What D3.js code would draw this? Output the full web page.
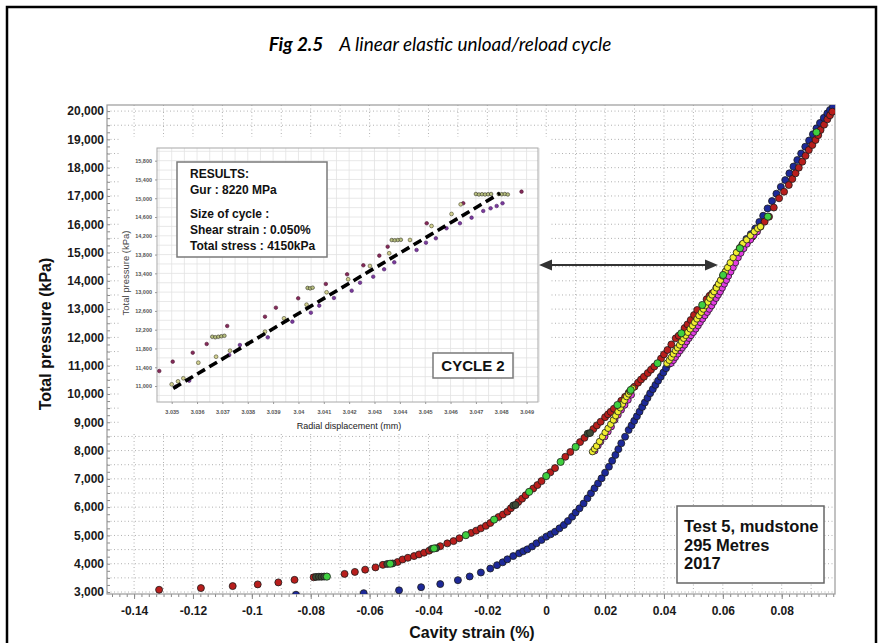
<!DOCTYPE html>
<html>
<head>
<meta charset="utf-8">
<script src="https://cdn.jsdelivr.net/npm/d3@7"></script>
<style>
  body { margin: 0; background: #fff; }
  svg { display: block; }
</style>
</head>
<body>
<svg id="chart" width="880" height="643"></svg>
<script>
// ---------- text ----------
const titleBold = "Fig 2.5";
const titleRest = "A linear elastic unload/reload cycle";
const xAxisTitle = "Cavity strain (%)";
const yAxisTitle = "Total pressure (kPa)";
const infoLines = ["Test 5, mudstone", "295 Metres", "2017"];
const resultLines = ["RESULTS:", "Gur : 8220 MPa", "Size of cycle :", "Shear strain : 0.050%", "Total stress : 4150kPa"];
const cycleLabel = "CYCLE 2";
const insetXTitle = "Radial displacement (mm)";
const insetYTitle = "Total pressure (kPa)";

// ---------- main axes ----------
const xTicks = [-0.14, -0.12, -0.1, -0.08, -0.06, -0.04, -0.02, 0, 0.02, 0.04, 0.06, 0.08];
const xTickLabels = ["-0.14", "-0.12", "-0.1", "-0.08", "-0.06", "-0.04", "-0.02", "0", "0.02", "0.04", "0.06", "0.08"];
const yTicks = [3000, 4000, 5000, 6000, 7000, 8000, 9000, 10000, 11000, 12000, 13000, 14000, 15000, 16000, 17000, 18000, 19000, 20000];
const yTickLabels = ["3,000", "4,000", "5,000", "6,000", "7,000", "8,000", "9,000", "10,000", "11,000", "12,000", "13,000", "14,000", "15,000", "16,000", "17,000", "18,000", "19,000", "20,000"];

// ---------- main series: [cavity strain %, total pressure kPa] ----------
const loadingRed = [
  [-0.1505,3010],[-0.1315,3080],[-0.1173,3140],[-0.1065,3210],[-0.0980,3270],[-0.0910,3340],[-0.0855,3430],[-0.0790,3520],
  [-0.0685,3640],[-0.0650,3710],[-0.0615,3790],[-0.0580,3870],[-0.0555,3960],[-0.0505,4060],[-0.0488,4150],[-0.0470,4210],
  [-0.0449,4270],[-0.0432,4330],[-0.0415,4390],[-0.0398,4460],[-0.0360,4620],[-0.0336,4720],[-0.0315,4800],[-0.0295,4900],
  [-0.0255,5090],[-0.0238,5170],[-0.0222,5250],[-0.0205,5340],[-0.0190,5440],[-0.0162,5650],[-0.0147,5740],[-0.0132,5840],
  [-0.0120,5960],[-0.0095,6180],[-0.0082,6300],[-0.0070,6420],[-0.0044,6660],[-0.0030,6780],[-0.0016,6920],[0.0014,7230],
  [0.0030,7380],[0.0065,7780],[0.0082,7950],[0.0115,8300],[0.0130,8450],[0.0160,8760],[0.0172,8890],[0.0185,9020],
  [0.0200,9180],[0.0210,9280],[0.0219,9370],[0.0230,9480],[0.0255,9760],[0.0268,9900],[0.0280,10040],[0.0300,10260],
  [0.0312,10400],[0.0322,10510],[0.0332,10610],[0.0345,10740],[0.0356,10860],[0.0367,10970],[0.0390,11250],[0.0400,11400],
  [0.0412,11555],[0.0425,11750],[0.0440,11968],[0.0450,12060],[0.0470,12330],[0.0480,12460],[0.0491,12615],[0.0502,12790],
  [0.0513,12970],[0.0545,13350],[0.0555,13470],[0.0564,13560],[0.0578,13760],[0.0593,13970],[0.0612,14350],[0.0625,14560],
  [0.0637,14760],[0.0648,14950],[0.0670,15300],[0.0685,15420],[0.0700,15560],[0.0714,15740],[0.0728,15914],[0.0742,16090],
  [0.0757,16268],[0.0773,16590],[0.0791,16917],[0.0808,17150],[0.0824,17387],[0.0836,17600],[0.0847,17800],[0.0858,18000],
  [0.0870,18210],[0.0881,18420],[0.0892,18624],[0.0904,18800],[0.0915,18978],[0.0924,19150],[0.0932,19331],[0.0944,19520],
  [0.0955,19710],[0.0964,19850],[0.0972,19979]
];
const reloadBlue = [
  [-0.0850,2905],[-0.0620,2960],[-0.0500,3060],[-0.0425,3170],[-0.0360,3280],[-0.0300,3420],[-0.0260,3550],[-0.0222,3690],
  [-0.0190,3830],[-0.0167,3950],[-0.0148,4050],[-0.0132,4156],[-0.0112,4270],[-0.0092,4368],[-0.0078,4440],[-0.0064,4509],
  [-0.0048,4610],[-0.0033,4722],[-0.0016,4840],[0.0000,4955],[0.0015,5040],[0.0030,5132],[0.0045,5250],[0.0060,5368],
  [0.0074,5510],[0.0088,5662],[0.0100,5810],[0.0113,5959],[0.0127,6130],[0.0140,6312],[0.0152,6490],[0.0164,6666],
  [0.0176,6840],[0.0188,7019],[0.0200,7220],[0.0213,7429],[0.0224,7640],[0.0235,7843],[0.0245,8050],[0.0255,8257],
  [0.0268,8490],[0.0280,8727],[0.0290,8890],[0.0299,9050],[0.0308,9210],[0.0317,9374],[0.0326,9540],[0.0335,9700],
  [0.0344,9860],[0.0353,10024],[0.0362,10170],[0.0371,10320],[0.0380,10470],[0.0389,10611],[0.0398,10760],[0.0407,10910],
  [0.0416,11060],[0.0425,11200],[0.0434,11330],[0.0443,11470],[0.0452,11600],[0.0461,11731],[0.0470,11850],[0.0479,11970],
  [0.0487,12090],[0.0495,12202],[0.0503,12320],[0.0511,12440],[0.0519,12560],[0.0527,12675],[0.0535,12790],[0.0543,12910],
  [0.0551,13030],[0.0559,13146],[0.0567,13280],[0.0575,13410],[0.0583,13545],[0.0591,13676],[0.0601,13890],[0.0611,14100],
  [0.0624,14420],[0.0638,14750],[0.0652,15030],[0.0666,15280],[0.0680,15480],[0.0695,15650],[0.0710,15850],[0.0724,16080],
  [0.0737,16300],[0.0752,16560],[0.0767,16820],[0.0782,17080],[0.0797,17320],[0.0812,17560],[0.0826,17800],[0.0840,18040],
  [0.0853,18270],[0.0866,18500],[0.0880,18740],[0.0893,18960],[0.0906,19180],[0.0918,19390],[0.0930,19580],[0.0943,19760],
  [0.0955,19920],[0.0964,20040],[0.0974,20150]
];
const cycleYellow = [
  [0.0157,7960],[0.0164,8060],[0.0171,8161],[0.0181,8320],[0.0191,8490],[0.0200,8640],[0.0210,8787],[0.0219,8930],
  [0.0228,9080],[0.0236,9230],[0.0244,9374],[0.0252,9510],[0.0259,9646],[0.0266,9775],[0.0273,9905],[0.0280,10000],
  [0.0285,10081],[0.0293,10200],
  [0.0410,11085],[0.0418,11190],[0.0425,11297],[0.0432,11415],[0.0439,11532],[0.0446,11630],[0.0453,11731],[0.0460,11850],
  [0.0467,11968],[0.0474,12070],[0.0481,12179],[0.0489,12300],[0.0497,12414],[0.0504,12530],[0.0512,12651],[0.0519,12770],
  [0.0527,12887],[0.0534,13000],[0.0541,13121],[0.0549,13250],[0.0556,13382],[0.0563,13500],[0.0570,13616],[0.0578,13750],
  [0.0585,13888],[0.0592,14020],[0.0600,14170],[0.0608,14320],[0.0616,14470],[0.0625,14640],[0.0635,14820],[0.0646,15000],
  [0.0657,15170],[0.0668,15320],[0.0681,15450],[0.0694,15600],[0.0707,15740],[0.0718,15850],[0.0728,15914]
];
const cycleMagenta = [
  [0.0165,7995],[0.0176,8172],[0.0185,8313],[0.0199,8490],[0.0210,8667],[0.0221,8843],[0.0233,9080],[0.0244,9257],
  [0.0255,9434],[0.0267,9610],[0.0278,9787],[0.0289,9964],
  [0.0424,11085],[0.0432,11190],[0.0439,11297],[0.0447,11415],[0.0455,11532],[0.0462,11630],[0.0470,11731],[0.0477,11850],
  [0.0485,11968],[0.0492,12070],[0.0500,12179],[0.0508,12300],[0.0516,12414],[0.0523,12530],[0.0531,12651],[0.0539,12770],
  [0.0547,12887],[0.0554,13000],[0.0562,13121],[0.0569,13250],[0.0577,13382],[0.0584,13500],[0.0591,13616],[0.0598,13750],
  [0.0605,13888],[0.0612,14020],[0.0619,14170],[0.0627,14320],[0.0635,14470],[0.0643,14640],[0.0652,14820],[0.0661,14980],
  [0.0671,15140],[0.0682,15300],[0.0694,15450],[0.0705,15600],[0.0717,15737]
];
const holdGreen = [
  [-0.0745,3545],[-0.0530,4000],[-0.0381,4540],[-0.0273,5010],[-0.0177,5560],[-0.0058,6540],[0.0000,7100],[0.0049,7600],
  [0.0100,8130],[0.0242,9610],[0.0287,10141],[0.0378,11085],[0.0459,12145],[0.0530,13146],[0.0601,14206],[0.0658,15150],
  [0.0753,16270],[0.0918,19250]
];
const holdDark = [
  [-0.0782,3535],[-0.0772,3540],[-0.0763,3540],[-0.0754,3545],[-0.0540,3990],[-0.0522,4010],[-0.0388,4530],[-0.0374,4550],
  [-0.0112,6060],[-0.0104,6080],[0.0141,8600],[0.0149,8620]
];

// ---------- inset: radial displacement (mm) vs total pressure (kPa) ----------
const insetXTicks = [3.035,3.036,3.037,3.038,3.039,3.04,3.041,3.042,3.043,3.044,3.045,3.046,3.047,3.048,3.049];
const insetXTickLabels = ["3.035","3.036","3.037","3.038","3.039","3.04","3.041","3.042","3.043","3.044","3.045","3.046","3.047","3.048","3.049"];
const insetYTicks = [11000,11400,11800,12200,12600,13000,13400,13800,14200,14600,15000,15400,15800];
const insetYTickLabels = ["11,000","11,400","11,800","12,200","12,600","13,000","13,400","13,800","14,200","14,600","15,000","15,400","15,800"];
const insetUpper = [
  [3.03451,11320],[3.03504,11519],[3.03583,11710],[3.03638,11896],[3.03719,12279],[3.03868,12477],[3.03911,12669],
  [3.03999,12869],[3.04108,13174],[3.04192,13380],[3.04256,13572],[3.04319,13777],[3.04352,13968],[3.04506,14467],
  [3.04650,14893],[3.04880,15140]
];
const insetMiddle = [
  [3.03500,11037],[3.03525,11100],[3.03546,11165],[3.03605,11497],[3.03675,11625],[3.03730,11753],[3.03800,11900],
  [3.03868,12158],[3.03943,12443],[3.04032,12733],[3.04111,12997],[3.04196,13274],[3.04282,13557],[3.04358,13828],
  [3.04440,14111],[3.04525,14409],[3.04604,14665],[3.04640,14870]
];
const insetLower = [
  [3.03517,10990],[3.03569,11114],[3.03727,11661],[3.03769,11874],[3.03879,12038],[3.03976,12371],[3.04049,12562],
  [3.04082,12712],[3.04140,12876],[3.04210,13031],[3.04243,13201],[3.04295,13329],[3.04338,13487],[3.04378,13636],
  [3.04466,13898],[3.04503,14053],[3.04542,14147],[3.04584,14360],[3.04637,14467],[3.04683,14586],[3.04729,14729],
  [3.04758,14786],[3.04782,14835],[3.04805,14893]
];
const insetHolds = [
  [3.03660,12050],[3.03672,12040],[3.03684,12050],[3.03696,12060],[3.03708,12070],[3.04036,13090],[3.04046,13080],
  [3.04056,13095],[3.04368,14110],[3.04380,14105],[3.04392,14110],[3.04404,14115],[3.04700,15090],[3.04712,15080],
  [3.04724,15085],[3.04736,15080],[3.04748,15085],[3.04760,15090],[3.04790,15090],[3.04802,15085],[3.04814,15090],
  [3.04826,15080]
];
const insetFitStrain = [3.03506, 3.04795];
const insetFitPressure = [10951, 15106];

// ---------- drawing ----------
const svg = d3.select("#chart");
const sans = '"Liberation Sans", Arial, sans-serif';

svg.append("rect").attr("width", 880).attr("height", 643).attr("fill", "#fff");
svg.append("rect").attr("x", 7).attr("y", 7).attr("width", 869).attr("height", 670)
  .attr("fill", "none").attr("stroke", "#000").attr("stroke-width", 2.5);

// title
const title = svg.append("text").attr("x", 440).attr("y", 51).attr("text-anchor", "middle")
  .style("font-family", 'Lato, "Open Sans", sans-serif').style("font-style", "italic")
  .style("font-size", "20px").attr("fill", "#000");
title.append("tspan").style("font-weight", "bold").text(titleBold);
title.append("tspan").attr("dx", 16).text(titleRest);
const tw = title.node().getBBox().width;
title.style("font-size", (20 * 342 / tw).toFixed(2) + "px");

const P = { l: 107, r: 835, t: 105, b: 594 };
const x = d3.scaleLinear().domain([-0.1492, 0.0981]).range([P.l, P.r]);
const y = d3.scaleLinear().domain([2930, 20215]).range([P.b, P.t]);

// dotted grid
const grid = svg.append("g").attr("stroke", "#b0b0b0").attr("stroke-width", 1).attr("stroke-dasharray", "1,2.5");
grid.selectAll("line.v").data(d3.range(-0.14, 0.0981, 0.01)).join("line")
  .attr("x1", d => x(d)).attr("x2", d => x(d)).attr("y1", P.t).attr("y2", P.b);
grid.selectAll("line.h").data(d3.range(3000, 20001, 500)).join("line")
  .attr("x1", P.l).attr("x2", P.r).attr("y1", d => y(d)).attr("y2", d => y(d));

// minor ticks on the axes
const axisColor = "#8a8a8a";
const gxMinor = svg.append("g").attr("transform", `translate(0,${P.b})`)
  .call(d3.axisBottom(x).tickValues(d3.range(-0.1475, 0.098, 0.0025)).tickFormat("").tickSize(3));
const gyMinor = svg.append("g").attr("transform", `translate(${P.l},0)`)
  .call(d3.axisRight(y).tickValues(d3.range(3000, 20201, 250)).tickFormat("").tickSize(3));
[gxMinor, gyMinor].forEach(g => { g.select(".domain").remove(); g.selectAll("line").attr("stroke", axisColor); });

// major axes with labels
const gx = svg.append("g").attr("transform", `translate(0,${P.b})`)
  .call(d3.axisBottom(x).tickValues(xTicks).tickFormat((d, i) => xTickLabels[i]).tickSize(5).tickPadding(7));
const gy = svg.append("g").attr("transform", `translate(${P.l},0)`)
  .call(d3.axisLeft(y).tickValues(yTicks).tickFormat((d, i) => yTickLabels[i]).tickSize(0).tickPadding(3));
[gx, gy].forEach(g => {
  g.select(".domain").remove();
  g.selectAll("line").attr("stroke", axisColor);
  g.selectAll("text").style("font-family", sans).style("font-weight", "bold").style("font-size", "12px").attr("fill", "#1a1a1a");
});

svg.append("rect").attr("x", P.l).attr("y", P.t).attr("width", P.r - P.l).attr("height", P.b - P.t)
  .attr("fill", "none").attr("stroke", "#9a9a9a").attr("stroke-width", 1.2);

// axis titles
svg.append("text").attr("transform", "translate(51,334) rotate(-90)").attr("text-anchor", "middle")
  .style("font-family", sans).style("font-weight", "bold").style("font-size", "16px").attr("fill", "#111").text(yAxisTitle);
svg.append("text").attr("x", 472).attr("y", 638).attr("text-anchor", "middle")
  .style("font-family", sans).style("font-weight", "bold").style("font-size", "16px").attr("fill", "#111").text(xAxisTitle);

// data points
svg.append("clipPath").attr("id", "plotClip").append("rect")
  .attr("x", P.l).attr("y", P.t).attr("width", P.r - P.l).attr("height", P.b - P.t);
const pts = svg.append("g").attr("clip-path", "url(#plotClip)");
function dots(data, fill, r) {
  pts.append("g").selectAll("circle").data(data).join("circle")
    .attr("cx", d => x(d[0])).attr("cy", d => y(d[1])).attr("r", r)
    .attr("fill", fill).attr("stroke", "#1c1c1c").attr("stroke-width", 0.8);
}
dots(reloadBlue, "#1d2998", 3.5);
dots(loadingRed, "#b81e1c", 3.5);
dots(cycleMagenta, "#e23ce2", 3.2);
dots(cycleYellow, "#f0ee30", 3.2);
dots(holdDark, "#3d4a35", 3.5);
dots(holdGreen, "#3fcf3f", 3.6);

// inset panel
const I = { l: 157, r: 538, t: 148, b: 402 };
const ix = d3.scaleLinear().domain([3.03442, 3.04945]).range([I.l, I.r]);
const iy = d3.scaleLinear().domain([10660, 16070]).range([I.b, I.t]);
const inset = svg.append("g");
inset.append("rect").attr("x", 121).attr("y", 137).attr("width", 428).attr("height", 295).attr("fill", "#fff");
inset.append("rect").attr("x", I.l).attr("y", I.t).attr("width", I.r - I.l).attr("height", I.b - I.t).attr("fill", "#fff");
const ig = inset.append("g").attr("stroke", "#e2e2e2").attr("stroke-width", 0.8);
ig.selectAll("line.v").data(d3.range(3.0345, 3.0495, 0.0005)).join("line")
  .attr("x1", d => ix(d)).attr("x2", d => ix(d)).attr("y1", I.t).attr("y2", I.b);
ig.selectAll("line.h").data(d3.range(10800, 16001, 200)).join("line")
  .attr("x1", I.l).attr("x2", I.r).attr("y1", d => iy(d)).attr("y2", d => iy(d));
inset.append("rect").attr("x", I.l).attr("y", I.t).attr("width", I.r - I.l).attr("height", I.b - I.t)
  .attr("fill", "none").attr("stroke", "#a8a8a8").attr("stroke-width", 1);

const igx = inset.append("g").attr("transform", `translate(0,${I.b})`)
  .call(d3.axisBottom(ix).tickValues(insetXTicks).tickFormat((d, i) => insetXTickLabels[i]).tickSize(2).tickPadding(6));
const igy = inset.append("g").attr("transform", `translate(${I.l},0)`)
  .call(d3.axisLeft(iy).tickValues(insetYTicks).tickFormat((d, i) => insetYTickLabels[i]).tickSize(2).tickPadding(3));
[igx, igy].forEach(g => {
  g.select(".domain").remove();
  g.selectAll("line").attr("stroke", "#999");
  g.selectAll("text").style("font-family", sans).style("font-weight", "bold").style("font-size", "5.5px").attr("fill", "#555");
});
inset.append("text").attr("transform", "translate(129,273) rotate(-90)").attr("text-anchor", "middle")
  .style("font-family", sans).style("font-size", "9.5px").attr("fill", "#444").text(insetYTitle);
inset.append("text").attr("x", 349).attr("y", 429).attr("text-anchor", "middle")
  .style("font-family", sans).style("font-size", "9px").attr("fill", "#222").text(insetXTitle);

function idots(data, fill, stroke, r) {
  inset.append("g").selectAll("circle").data(data).join("circle")
    .attr("cx", d => ix(d[0])).attr("cy", d => iy(d[1])).attr("r", r)
    .attr("fill", fill).attr("stroke", stroke).attr("stroke-width", 0.6);
}
idots(insetLower, "#7a3a9e", "#4a2060", 1.8);
idots(insetUpper, "#862a5a", "#4a1530", 1.8);
idots(insetMiddle, "#d2d090", "#4a4a30", 1.9);
idots(insetHolds, "#b8c080", "#303020", 1.8);

const fitLine = d3.line().x(d => ix(d[0])).y(d => iy(d[1]));
inset.append("path").datum(insetFitStrain.map((s, i) => [s, insetFitPressure[i]]))
  .attr("d", fitLine).attr("fill", "none").attr("stroke", "#000").attr("stroke-width", 3.6)
  .attr("stroke-dasharray", "9,5");

// results box
const rb = inset.append("g");
rb.append("rect").attr("x", 177).attr("y", 162).attr("width", 150).attr("height", 95)
  .attr("fill", "#fff").attr("stroke", "#7a7a7a").attr("stroke-width", 1.5);
const rbY = [177.5, 193.5, 217.5, 233.5, 250];
rb.selectAll("text").data(resultLines).join("text")
  .attr("x", 190).attr("y", (d, i) => rbY[i])
  .style("font-family", sans).style("font-weight", "bold").style("font-size", "12px").attr("fill", "#111").text(d => d);

// cycle label
inset.append("rect").attr("x", 433).attr("y", 353).attr("width", 80).attr("height", 25)
  .attr("fill", "#fff").attr("stroke", "#7a7a7a").attr("stroke-width", 1.5);
inset.append("text").attr("x", 473).attr("y", 371).attr("text-anchor", "middle")
  .style("font-family", sans).style("font-weight", "bold").style("font-size", "15px").attr("fill", "#111").text(cycleLabel);

// double-headed arrow from the inset to the cycle on the main curve
const arrowY = 265, ax0 = 539, ax1 = 718;
svg.append("line").attr("x1", ax0 + 10).attr("x2", ax1 - 10).attr("y1", arrowY).attr("y2", arrowY)
  .attr("stroke", "#333").attr("stroke-width", 2);
svg.append("path").attr("d", `M${ax0},${arrowY} l13,-5.5 l0,11 Z`).attr("fill", "#333");
svg.append("path").attr("d", `M${ax1},${arrowY} l-13,-5.5 l0,11 Z`).attr("fill", "#333");

// test information box
const tb = svg.append("g");
tb.append("rect").attr("x", 677).attr("y", 506).attr("width", 147).attr("height", 77)
  .attr("fill", "#fff").attr("stroke", "#666").attr("stroke-width", 1.5);
tb.selectAll("text").data(infoLines).join("text")
  .attr("x", 684).attr("y", (d, i) => 532 + i * 18.5)
  .style("font-family", sans).style("font-weight", "bold").style("font-size", "16.5px").attr("fill", "#111").text(d => d);
</script>
</body>
</html>
